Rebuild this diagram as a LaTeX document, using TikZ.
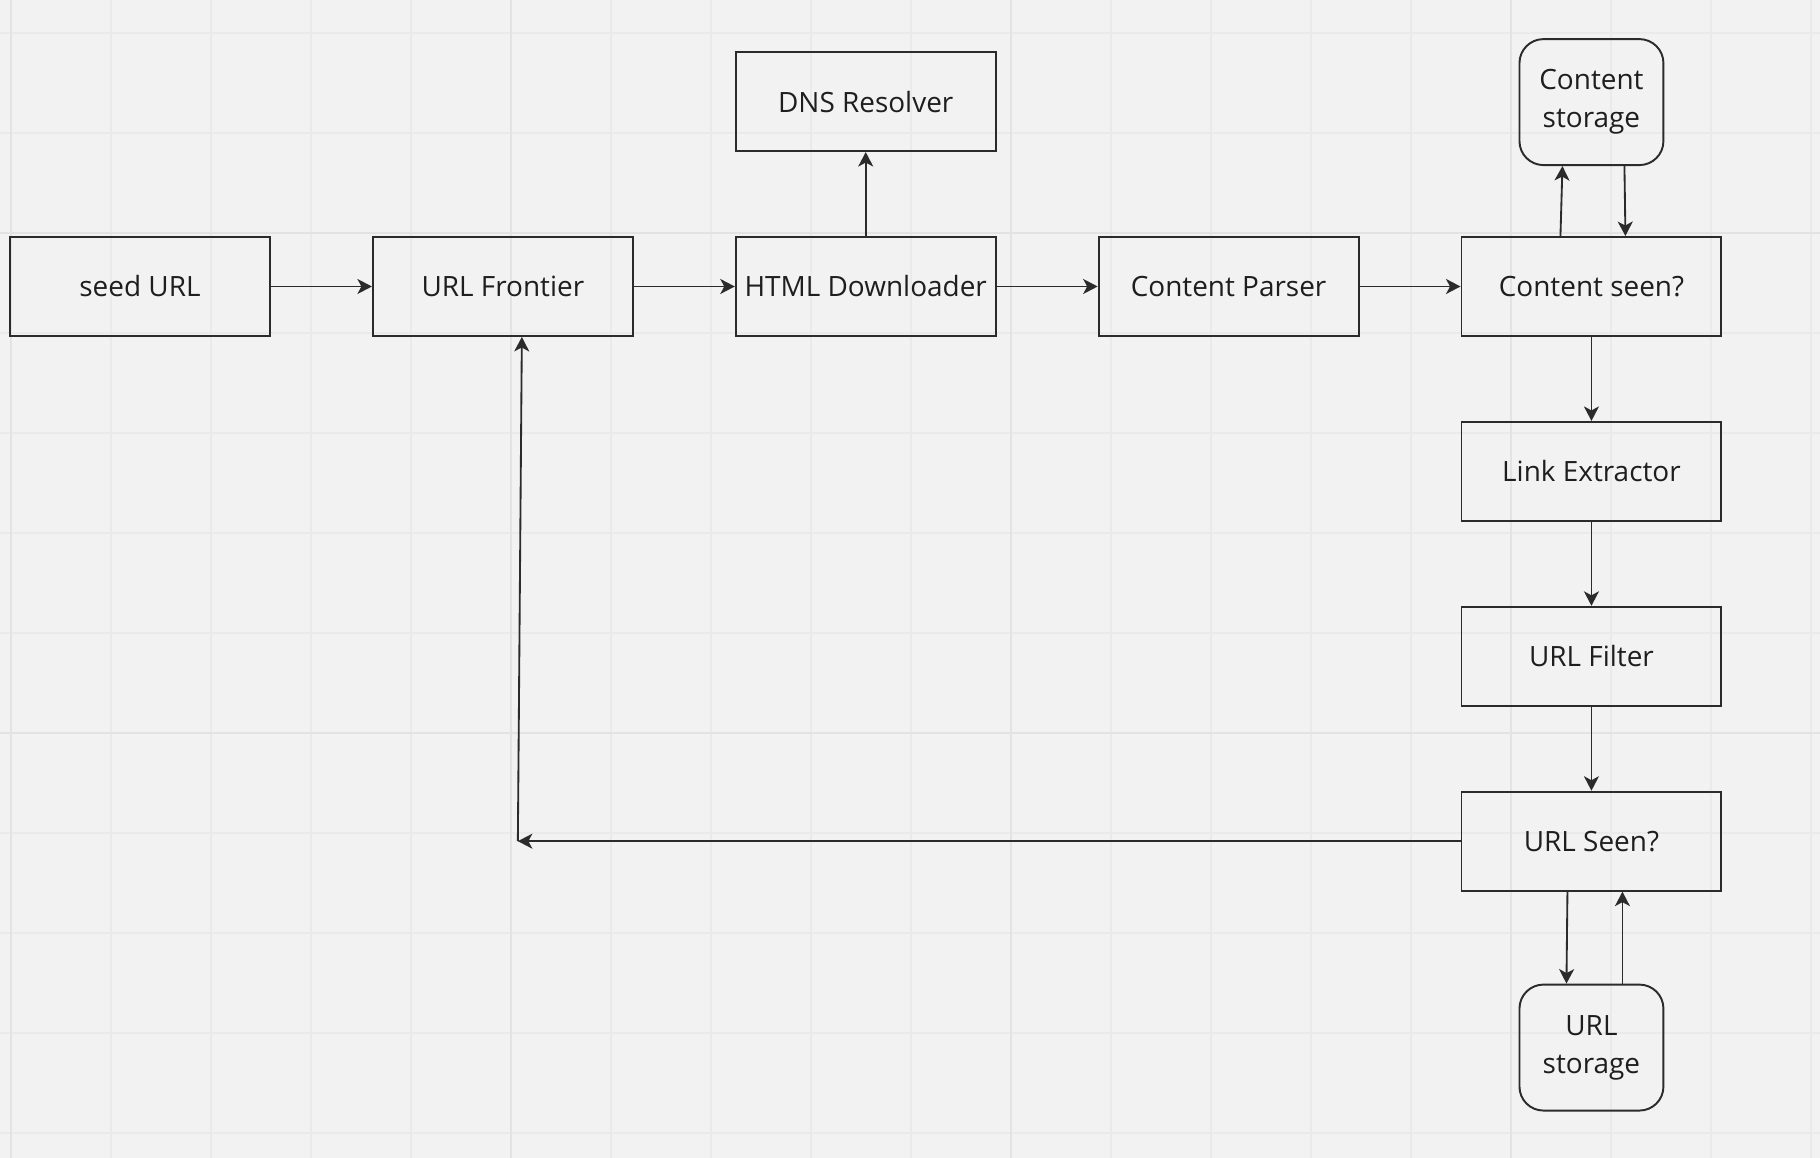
\documentclass[tikz,border=0pt]{standalone}
\usepackage{fontspec}
\setmainfont{Open Sans}
\usetikzlibrary{positioning,arrows.meta}
\definecolor{paper}{HTML}{F2F2F2}
\definecolor{minorgrid}{HTML}{EAEAEA}
\definecolor{majorgrid}{HTML}{E3E3E3}
\definecolor{ink}{HTML}{2B2B2B}
\definecolor{txt}{HTML}{1E1E1E}

\begin{document}
\begin{tikzpicture}[x=0.02cm,y=-0.02cm,
                    node distance=1.68cm and 2.02cm,
                    box/.style={draw=ink,line width=1.1pt,minimum width=5.2cm,minimum height=1.98cm,
                                inner sep=0pt,text=txt,font=\fontsize{15.9}{21.5}\selectfont},
                    store/.style={box,rounded corners=0.48cm,minimum width=2.88cm,minimum height=2.52cm,align=center},
                    flow/.style={draw=ink,line width=1.05pt,-{Stealth[length=0.29cm,width=0.3cm,inset=0.08cm]}}]
% canvas and grid
\fill[paper] (0,0) rectangle (1820,1158);
\useasboundingbox (0,0) rectangle (1820,1158);
\foreach \x in {11,111,...,1811} \draw[minorgrid,line width=0.6pt] (\x,0) -- (\x,1158);
\foreach \y in {33,133,...,1133} \draw[minorgrid,line width=0.6pt] (0,\y) -- (1820,\y);
\foreach \x in {11,511,1011,1511} \draw[majorgrid,line width=1pt] (\x,0) -- (\x,1158);
\foreach \y in {233,733} \draw[majorgrid,line width=1pt] (0,\y) -- (1820,\y);

% main row
\node[box] (seed) at (140,286.5) {seed URL};
\node[box,right=of seed] (frontier) {URL Frontier};
\node[box,right=of frontier] (html) {HTML Downloader};
\node[box,right=of html] (parser) {Content Parser};
\node[box,right=of parser] (cseen) {Content seen?};
\node[box,above=of html] (dns) {DNS Resolver};
\node[store,above=1.4cm of cseen] (cstore) {Content\\storage};

% right column
\node[box,below=of cseen] (links) {Link Extractor};
\node[box,below=of links] (filter) {URL Filter};
\node[box,below=of filter] (useen) {URL Seen?};
\node[store,below=1.84cm of useen] (ustore) {URL\\storage};

\coordinate (back) at ([xshift=0.3cm]frontier.south |- useen.west);

\draw[flow] (seed) -- (frontier);
\draw[flow] (frontier) -- (html);
\draw[flow] (html) -- (parser);
\draw[flow] (parser) -- (cseen);
\draw[flow] (html) -- (dns);
\draw[flow] ([xshift=-0.62cm]cseen.north) -- ([xshift=-0.58cm]cstore.south);
\draw[flow] ([xshift=0.66cm]cstore.south) -- ([xshift=0.68cm]cseen.north);
\draw[flow] (cseen) -- (links);
\draw[flow] (links) -- (filter);
\draw[flow] (filter) -- (useen);
\draw[flow] ([xshift=-0.48cm]useen.south) -- ([xshift=-0.5cm]ustore.north);
\draw[flow] ([xshift=0.62cm]ustore.north) -- ([xshift=0.62cm]useen.south);
\draw[flow] (useen.west) -- (back);
\draw[flow] (back) -- ([xshift=0.38cm]frontier.south);
\end{tikzpicture}
\end{document}
